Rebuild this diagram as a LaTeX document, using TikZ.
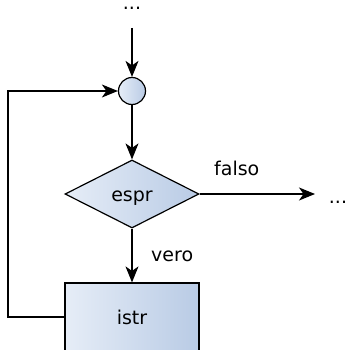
\documentclass[tikz,border=0pt]{standalone}
\usepackage{fontspec}
\setmainfont{DejaVu Sans}
\usetikzlibrary{arrows.meta,shapes.geometric}
\definecolor{fillL}{HTML}{E6EDF7}
\definecolor{fillR}{HTML}{B9CBE5}
\begin{document}
\begin{tikzpicture}[x=1pt,y=-1pt,
  every node/.style={font=\fontsize{19}{22}\selectfont},
  flow/.style={draw=black, line width=1.2pt, left color=fillL, right color=fillR},
  arr/.style={draw=black, line width=1.3pt, -{Stealth[length=16pt,width=13pt,inset=4.5pt]}},
  lbl/.style={inner sep=0pt},
  dots/.style={inner sep=0pt, text height=3pt, text depth=0pt, anchor=base}]
\useasboundingbox (0,0) rectangle (347,350);
\node[dots] (top) at (132,9.5) {...};
\node[dots] (rdots) at (338,203) {...};
\coordinate (s) at (132,28);
\node[flow, circle, minimum size=27pt, inner sep=0pt] (c) at (132,91) {};
\node[flow, diamond, minimum width=134pt, minimum height=68pt, inner sep=0pt, text height=14pt, text depth=0pt] (d) at (132,194) {espr};
\node[flow, rectangle, minimum width=134pt, minimum height=68pt, inner sep=0pt] (b) at (132,317) {istr};
\coordinate (e) at (315,194);
\coordinate (lp) at (8,317);
\draw[arr] (s) -- (c);
\draw[arr] (c) -- (d.north);
\draw[arr] (d.east) -- (e);
\draw[arr] (d.south) -- (b.north);
\draw[arr] (b.west) -- (lp) |- (c.west);
\node[lbl, anchor=west] (falso) at (214,168) {falso};
\node[lbl, anchor=west] (vero) at (151,256) {vero};
\end{tikzpicture}
\end{document}
